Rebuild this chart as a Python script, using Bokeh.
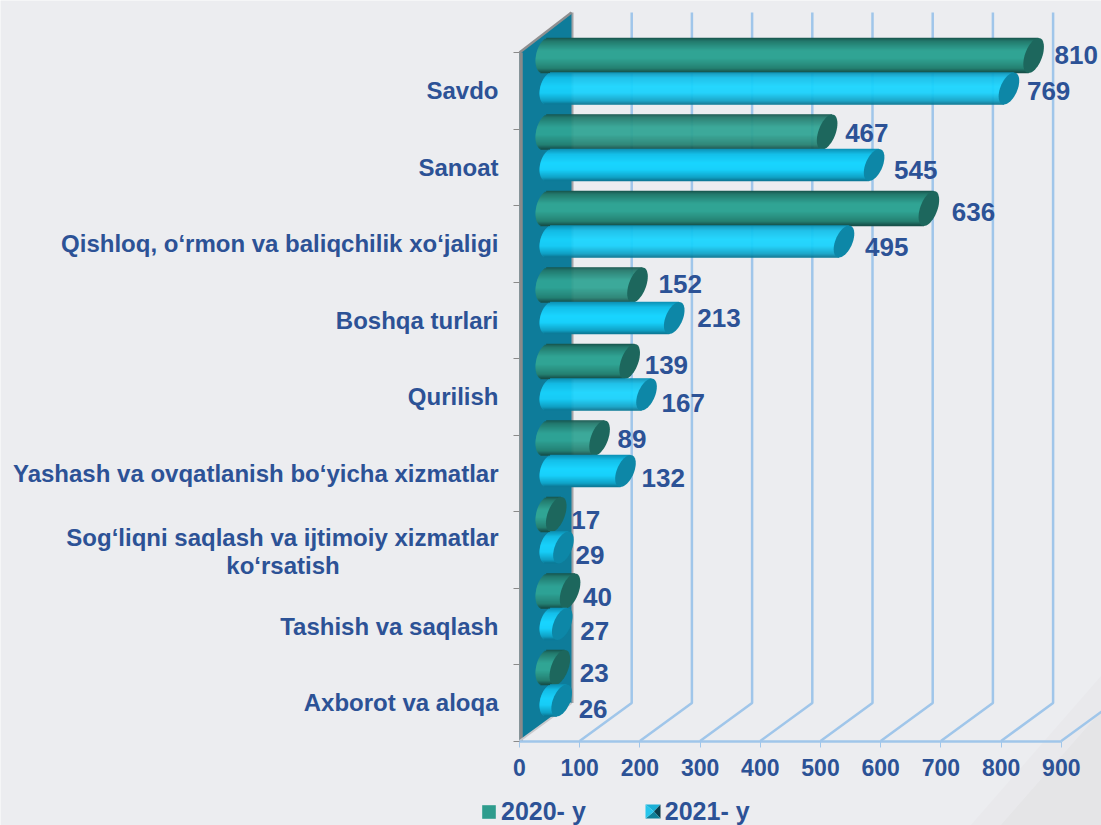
import math
from bokeh.embed import file_html
from bokeh.resources import INLINE
from bokeh.plotting import figure
from bokeh.models import Range1d, LinearAxis, FixedTicker, Legend, LegendItem
from bokeh.core.properties import value

categories = ["Savdo", "Sanoat", "Qishloq, o‘rmon va baliqchilik xo‘jaligi", "Boshqa turlari", "Qurilish",
              "Yashash va ovqatlanish bo‘yicha xizmatlar",
              "Sog‘liqni saqlash va ijtimoiy xizmatlar", "Tashish va saqlash", "Axborot va aloqa"]
second_line = "ko‘rsatish"
values_2020 = [810, 467, 636, 152, 139, 89, 17, 40, 23]
values_2021 = [769, 545, 495, 213, 167, 132, 29, 27, 26]
x_ticks = [0, 100, 200, 300, 400, 500, 600, 700, 800, 900]
series_names = ["2020- y", "2021- y"]

# layout, in pixels of the canvas
W, H = 1101, 825
X0, Y0 = 519, 52          # front wall origin on the canvas
SX = 0.602                # px per value unit
CELL = 76.5               # px per category
DX_DEPTH, DY_DEPTH = 52, 38
BG = "#ecedf0"
TXT = "#2c5296"
FONT = "Liberation Sans"
GRID = "#a0c6ea"
def xd(px): return (px - X0) / SX
def yd(px): return (px - Y0) / CELL
def wx(px): return px / SX
def wy(px): return px / CELL

p = figure(width=W, height=H, output_backend="svg", toolbar_location=None,
           x_range=Range1d(xd(0), xd(W)), y_range=Range1d(yd(H), yd(0)),
           min_border=0, min_border_left=0, min_border_right=0, min_border_top=0, min_border_bottom=0,
           x_axis_location=None, y_axis_location=None)
p.background_fill_color = BG
p.border_fill_color = BG
p.outline_line_color = None
p.grid.visible = False

# soft diagonal in the bottom right corner
p.patch([xd(1101), xd(1101), xd(970)], [yd(675), yd(825), yd(825)], fill_color="#e9e9ec", line_color=None)
p.patch([xd(1101), xd(1101), xd(1000)], [yd(710), yd(825), yd(825)], fill_color="#e5e5e7", line_color=None)

# gridlines on floor + back wall
top_y = yd(12)
floor_y = 9
back_y = floor_y - wy(DY_DEPTH)
xs = [[t, t + wx(DX_DEPTH), t + wx(DX_DEPTH)] for t in x_ticks[1:]]
ys = [[floor_y, back_y, top_y] for _ in x_ticks[1:]]
p.multi_line(xs, ys, line_color=GRID, line_width=2.5)

# back edge and side wall
bx = wx(DX_DEPTH)
p.line([bx, bx], [top_y, back_y], line_color="#a3a3a6", line_width=4)
p.patch([0, bx, bx, 0], [0, top_y, back_y, floor_y], fill_color="#0e7c9a", line_color=None)
p.line([wx(1.5), wx(1.5)], [0, floor_y], line_color="#8a8a8a", line_width=3.5)
p.line([0, bx], [0, top_y], line_color="#8f8f90", line_width=2.5)
p.line([0, bx], [floor_y, back_y], line_color="#c9c9cc", line_width=2)

def hex2(c): return [int(c[i:i + 2], 16) for i in (1, 3, 5)]
def ramp(stops, s):
    for (a, ca), (b, cb) in zip(stops, stops[1:]):
        if a <= s <= b:
            f = (s - a) / (b - a)
            A, B = hex2(ca), hex2(cb)
            return "#%02x%02x%02x" % tuple(round(A[i] + (B[i] - A[i]) * f) for i in range(3))
    return stops[-1][1]

GREEN = [(-1, "#17534c"), (-0.8, "#237a6d"), (-0.25, "#31a595"), (0.15, "#31a595"), (0.75, "#258071"), (1, "#154b45")]
BLUE = [(-1, "#0c8fb2"), (-0.65, "#15bfe9"), (-0.1, "#19d5ff"), (0.3, "#18d0fb"), (0.8, "#10a0c4"), (1, "#0b7491")]
HW, SKEW = 9, 5

def cylinders(vals, cy0, hh, left_c, end_color, stops):
    l, r, t, b, col, ex, ey = [], [], [], [], [], [], []
    n = int(hh * 2)
    for i, v in enumerate(vals):
        cy = cy0 + CELL * i
        cx_end = 545.5 + v * SX
        for k in range(n):
            s = -1 + 2 * (k + 0.5) / n
            shift = -s * SKEW
            lx = left_c - 9.5 * math.sqrt(1 - s * s) - s * 3
            rx = cx_end + shift
            l.append(xd(lx)); r.append(xd(max(rx, lx)))
            t.append(yd(cy + hh * (s - 1 / n) - 0.3)); b.append(yd(cy + hh * (s + 1 / n) + 0.3))
            col.append(ramp(stops, s))
        px = [cx_end + HW * math.cos(a * math.pi / 24) - SKEW * math.sin(a * math.pi / 24) for a in range(48)]
        py = [cy + hh * math.sin(a * math.pi / 24) for a in range(48)]
        ex.append([xd(q) for q in px]); ey.append([yd(q) for q in py])
    p.quad(left=l, right=r, top=t, bottom=b, fill_color=col, line_color=None)
    p.patches(ex, ey, fill_color=end_color, line_color=None)

cylinders(values_2020, 55, 17.5, 545, "#1d675d", GREEN)
cylinders(values_2021, 88, 16, 549, "#0d87a7", BLUE)

# data labels: small nudges as placed in the source chart
off_2020 = [-1, 0.5, 3, -1, 3, 0.5, 5, 6, 5]
off_2021 = [2, 4.5, 5, 0, 8, 6.5, 7, 6.5, 8]
nudge_2020 = [21, 18, 23, 21, 15, 18, 15, 13, 20]
nudge_2021 = [18, 20, 21, 23, 15, 16, 12, 18, 17]
lx, ly, lt = [], [], []
for i, v in enumerate(values_2020):
    lx.append(xd(545.5 + v * SX + nudge_2020[i])); ly.append(yd(55 + CELL * i + off_2020[i])); lt.append(str(v))
for i, v in enumerate(values_2021):
    lx.append(xd(545.5 + v * SX + nudge_2021[i])); ly.append(yd(88 + CELL * i + off_2021[i])); lt.append(str(v))
p.text(lx, ly, text=lt, text_font=value(FONT), text_font_style="bold", text_font_size="26px",
       text_color=TXT, text_align="left", text_baseline="middle")

# axes
ax = LinearAxis(fixed_location=floor_y, ticker=FixedTicker(ticks=x_ticks), bounds=(0, 900))
ax.axis_line_color = GRID; ax.axis_line_width = 2.5
ax.major_tick_line_color = GRID; ax.major_tick_out = 6; ax.major_tick_in = 0; ax.minor_tick_line_color = None
ax.major_label_text_font = FONT; ax.major_label_text_font_style = "bold"; ax.major_label_text_font_size = "23px"
ax.major_label_text_color = TXT; ax.major_label_standoff = 12
p.add_layout(ax, "below")

ay = LinearAxis(fixed_location=0, ticker=FixedTicker(ticks=list(range(10))), bounds=(0, 9))
ay.axis_line_color = None; ay.major_tick_line_color = "#8a8a8a"; ay.major_tick_out = 6; ay.major_tick_in = 0
ay.minor_tick_line_color = None; ay.major_label_text_font_size = "0px"
ay.major_label_overrides = {i: "" for i in range(10)}
p.add_layout(ay, "left")

label_ticks = [i + 0.5 for i in range(9)]
label_ticks[6] = yd(537)
al = LinearAxis(fixed_location=0, ticker=FixedTicker(ticks=label_ticks), bounds=(0, 9))
al.axis_line_color = None; al.major_tick_line_color = None; al.minor_tick_line_color = None
al.major_label_overrides = {t: c for t, c in zip(label_ticks, categories)}
al.major_label_text_font = FONT; al.major_label_text_font_style = "bold"; al.major_label_text_font_size = "24px"
al.major_label_text_color = TXT; al.major_label_standoff = 21; al.major_tick_out = 0; al.major_tick_in = 0
p.add_layout(al, "left")
p.text([xd(282.5)], [yd(565)], text=[second_line], text_font=value(FONT), text_font_style="bold", text_font_size="24px",
       text_color=TXT, text_align="center", text_baseline="middle")

# legend (the 2021 key is transparent: its bevel is drawn underneath)
r1 = p.quad(left=[xd(-50)], right=[xd(-40)], top=[yd(-50)], bottom=[yd(-40)], fill_color="#2e9c8d", line_color=None)
r2 = p.quad(left=[xd(-50)], right=[xd(-40)], top=[yd(-50)], bottom=[yd(-40)], fill_color="#12a9d0", fill_alpha=0, line_color=None)
lg = Legend(items=[LegendItem(label=series_names[0], renderers=[r1]), LegendItem(label=series_names[1], renderers=[r2])],
            orientation="horizontal", location=(480, -1), background_fill_alpha=0, border_line_color=None,
            padding=0, margin=0, spacing=58, glyph_width=17, glyph_height=17, label_standoff=4, label_height=15,
            label_text_font=FONT, label_text_font_style="bold", label_text_font_size="25px", label_text_color=TXT)
p.add_layout(lg, "center")

# bevel of the 2021 legend key
kx0, kx1, ky0, ky1 = 645, 660, 804, 818
kcx, kcy = (kx0 + kx1) / 2 + 1, (ky0 + ky1) / 2
tri = [((kx0, ky0), (kx1, ky0), "#1bb0d6"), ((kx1, ky0), (kx1, ky1), "#0b3d4b"),
       ((kx1, ky1), (kx0, ky1), "#0f8098"), ((kx0, ky1), (kx0, ky0), "#27c6ec")]
p.patches([[xd(a[0]), xd(b[0]), xd(kcx)] for a, b, _ in tri], [[yd(a[1]), yd(b[1]), yd(kcy)] for a, b, _ in tri],
          fill_color=[c for _, _, c in tri], line_color=None)

open("out.html", "w").write(file_html(p, INLINE))
